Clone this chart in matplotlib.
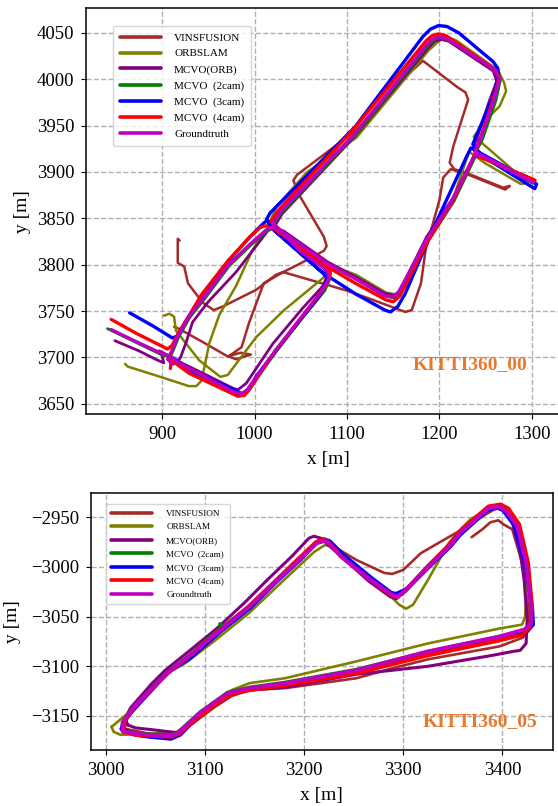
import numpy as np
import matplotlib
matplotlib.use("Agg")
import matplotlib.pyplot as plt

plt.rcParams['font.family'] = ['Liberation Serif', 'DejaVu Serif']

labels = ['VINSFUSION', 'ORBSLAM', 'MCVO(ORB)', 'MCVO  (2cam)', 'MCVO  (3cam)', 'MCVO  (4cam)', 'Groundtruth']
colors = ['#a52a2a', '#808000', '#800080', '#008000', '#0000ff', '#ff0000', '#c000c0']

# ---------------- KITTI360_00 trajectories (x, y) in metres ----------------
vins00 = np.array([(913,3733),(918,3731),(945,3716),(971,3701),(985,3705),(996,3703),(980,3698),(972,3701),
    (986,3711),(994,3737),(1010,3780),(1031,3792),(1049,3801),(1075,3815),(1078,3820),(1075,3830),
    (1049,3874),(1042,3891),(1046,3897),(1110,3945),(1170,4009),(1182,4020),(1186,4017),(1220,3991),
    (1228,3986),(1231,3978),(1215,3928),(1211,3910),(1216,3903),(1229,3899),(1269,3883),(1276,3885),
    (1271,3881),(1229,3898),(1212,3903),(1204,3894),(1200,3870),(1185,3816),(1180,3780),(1170,3751),
    (1163,3749),(1128,3762),(1100,3772),(1031,3792),(1023,3789),(1002,3773),(966,3755),(956,3751),
    (944,3759),(928,3780),(924,3798),(917,3802),(917,3828),(919,3826)])

orb00 = np.array([(860,3693),(863,3690),(895,3680),(929,3669),(937,3669),(942,3674),(946,3690),(951,3715),
    (962,3746),(980,3777),(998,3816),(1013,3838),(1024,3863),(1057,3900),(1110,3937),(1188,4031),
    (1199,4041),(1208,4046),(1218,4042),(1263,4010),(1270,3996),(1272,3987),(1265,3971),(1251,3957),
    (1237,3938),(1245,3932),(1290,3893),(1293,3888),(1288,3887),(1250,3909),(1232,3922),(1215,3872),
    (1188,3828),(1158,3773),(1152,3768),(1142,3770),(1110,3789),(1088,3797),(1078,3789),(1071,3783),
    (1032,3751),(1002,3722),(971,3681),(963,3679),(940,3697),(915,3729),(913,3744),(908,3747),(902,3745)])

mcvo_orb00 = np.array([(849,3718),(875,3707),(893,3698),(902,3694),(900,3702),(897,3707),(903,3704),(917,3696),
    (950,3680),(976,3667),(982,3665),(991,3672),(1020,3715),(1052,3753),(1074,3777),(1079,3789),
    (1075,3796),(1028,3836),(1022,3842),(1030,3855),(1109,3939),(1188,4034),(1195,4041),(1202,4043),(1210,4041),
    (1258,4009),(1262,3998),(1254,3977),(1240,3935),(1236,3925),(1246,3918),(1300,3890),(1246,3918),
    (1238,3919),(1214,3871),(1186,3830),(1157,3771),(1151,3767),(1141,3769),(1109,3787),(1079,3803),
    (1032,3836),(1021,3841),(1014,3836),(980,3792),(950,3760),(933,3738),(926,3716),(920,3700),(916,3694)])

cam2_00 = np.array([(841,3731),(870,3717),(899,3703),(909,3700),(917,3693),(950,3676),(979,3661),(987,3660),
    (993,3664),(1024,3707),(1053,3744),(1076,3772),(1082,3786),(1078,3795),(1051,3813),(1028,3837),
    (1021,3844),(1029,3856),(1110,3941),(1187,4036),(1193,4042),(1200,4045),(1209,4043),(1260,4010),(1266,4000),
    (1261,3977),(1246,3934),(1239,3921),(1248,3916),(1301,3888),(1248,3916),(1239,3917),(1216,3869),
    (1188,3826),(1157,3768),(1151,3764),(1141,3766),(1110,3784),(1080,3800),(1033,3833),(1021,3840),
    (1013,3836),(996,3821),(973,3799),(946,3763),(930,3743),(918,3722),(912,3707),(907,3697)])

cam3_00 = np.array([(865,3748),(890,3734),(911,3721),(917,3723),(925,3738),(943,3767),(970,3802),(995,3830),
    (1010,3845),(1014,3848),(1018,3840),(1074,3791),(1110,3768),(1141,3751),(1147,3749),(1155,3755),
    (1163,3769),(1191,3834),(1229,3916),(1234,3926),(1245,3920),(1305,3887),(1303,3882),(1245,3918),
    (1236,3930),(1258,3982),(1264,4005),(1263,4012),(1258,4019),(1221,4050),(1208,4057),(1199,4058),(1190,4054),
    (1182,4046),(1109,3949),(1035,3874),(1017,3856),(1013,3849),(1018,3840),(1074,3791),(1079,3785),(1070,3766),
    (1038,3726),(1002,3680),(994,3665),(988,3660),(980,3664),(926,3688),(913,3699),(912,3693)])

cam4_00 = np.array([(845,3741),(872,3726),(898,3713),(906,3709),(911,3713),(918,3727),(930,3746),(943,3768),
    (972,3805),(995,3830),(1006,3840),(1012,3842),(1022,3838),(1078,3798),(1109,3780),(1142,3762),
    (1150,3760),(1157,3766),(1186,3823),(1214,3868),(1238,3918),(1247,3915),(1303,3891),(1247,3915),
    (1239,3922),(1244,3936),(1258,3978),(1264,4000),(1262,4008),(1255,4014),(1207,4047),(1199,4049),(1192,4047),
    (1186,4042),(1107,3946),(1026,3859),(1018,3847),(1025,3838),(1074,3798),(1082,3791),(1080,3783),(1073,3772),
    (1050,3742),(1021,3705),(995,3666),(989,3659),(982,3658),(929,3683),(910,3697),(909,3688)])

gt00 = np.array([(845,3730),(872,3717),(900,3704),(910,3701),(918,3694),(950,3677),(979,3662),(986,3661),
    (992,3665),(1023,3708),(1052,3745),(1074,3773),(1081,3786),(1077,3795),(1050,3814),(1027,3838),
    (1020,3845),(1028,3857),(1109,3942),(1186,4037),(1192,4043),(1199,4046),(1208,4044),(1259,4011),(1265,4001),
    (1259,3978),(1244,3935),(1238,3922),(1247,3917),(1301,3889),(1247,3917),(1238,3918),(1214,3870),
    (1186,3827),(1155,3769),(1149,3765),(1140,3767),(1109,3785),(1079,3801),(1032,3834),(1020,3841),
    (1012,3837),(995,3822),(972,3800),(945,3764),(929,3744),(917,3723),(911,3708),(906,3698),(910,3694)])

# ---------------- KITTI360_05 trajectories ----------------
vins05 = np.array([(3369,-2970),(3380,-2962),(3388,-2955),(3396,-2953),(3401,-2957),(3410,-2962),(3420,-2996),
    (3426,-3040),(3426,-3060),(3421,-3071),(3397,-3080),(3325,-3093),(3289,-3102),(3253,-3112),(3181,-3122),
    (3145,-3124),(3127,-3130),(3110,-3141),(3090,-3156),(3075,-3167),(3066,-3170),(3044,-3168),(3020,-3163),
    (3018,-3156),(3026,-3144),(3048,-3121),(3062,-3107),(3084,-3090),(3116,-3063),(3145,-3040),(3170,-3016),
    (3195,-2993),(3213,-2976),(3220,-2974),(3224,-2976),(3253,-2993),(3281,-3006),(3289,-3007),(3300,-3003),
    (3318,-2986),(3337,-2975),(3358,-2963),(3375,-2952),(3390,-2943)])

orb05 = np.array([(3006,-3161),(3008,-3166),(3015,-3169),(3045,-3168),(3072,-3166),(3080,-3161),(3109,-3137),
    (3127,-3124),(3145,-3117),(3181,-3112),(3253,-3095),(3325,-3077),(3397,-3062),(3420,-3058),(3423,-3050),
    (3425,-3013),(3420,-2985),(3412,-2955),(3402,-2942),(3396,-2939),(3385,-2942),(3368,-2952),(3360,-2960),
    (3346,-2976),(3325,-3013),(3310,-3038),(3303,-3042),(3296,-3038),(3281,-3023),(3253,-3000),(3231,-2980),
    (3221,-2978),(3210,-2985),(3181,-3012),(3145,-3046),(3109,-3075),(3080,-3097),(3066,-3105),(3051,-3119),
    (3030,-3141),(3006,-3161)])

mcvo_orb05 = np.array([(3022,-3159),(3030,-3162),(3048,-3164),(3073,-3167),(3080,-3163),(3097,-3146),
    (3124,-3127),(3146,-3124),(3182,-3121),(3253,-3108),(3325,-3100),(3390,-3089),(3411,-3085),(3418,-3084),
    (3424,-3077),(3425,-3053),(3422,-3013),(3418,-2985),(3410,-2955),(3401,-2943),(3395,-2941),(3384,-2944),
    (3356,-2968),(3345,-2981),(3324,-3001),(3302,-3025),(3293,-3032),(3287,-3030),(3265,-3014),(3236,-2988),
    (3217,-2971),(3210,-2969),(3205,-2971),(3188,-2989),(3163,-3013),(3140,-3036),(3112,-3062),(3080,-3088),
    (3060,-3104),(3046,-3118),(3025,-3142),(3020,-3152),(3022,-3159)])

cam2_05 = np.array([(3017,-3164),(3030,-3167),(3044,-3168),(3066,-3169),(3073,-3166),(3095,-3146),(3123,-3126),
    (3145,-3121),(3181,-3116),(3253,-3103),(3325,-3085),(3397,-3070),(3423,-3064),(3429,-3057),(3428,-3030),
    (3424,-2995),(3420,-2972),(3419,-2968),(3416,-2957),(3405,-2943),(3398,-2938),(3386,-2940),(3357,-2965),
    (3346,-2979),(3325,-2999),(3303,-3022),(3294,-3029),(3289,-3027),(3267,-3012),(3238,-2989),(3224,-2974),
    (3219,-2973),(3212,-2975),(3195,-2992),(3170,-3015),(3145,-3039),(3118,-3060),(3115,-3057),(3116,-3061),
    (3084,-3089),(3062,-3106),(3048,-3120),(3026,-3143),(3017,-3156),(3017,-3164)])

cam3_05 = np.array([(3016,-3163),(3030,-3169),(3044,-3171),(3066,-3173),(3075,-3169),(3096,-3148),(3124,-3128),
    (3146,-3123),(3182,-3118),(3253,-3106),(3325,-3088),(3397,-3072),(3424,-3066),(3431,-3058),(3430,-3040),
    (3423,-2996),(3412,-2958),(3401,-2943),(3396,-2940),(3386,-2942),(3358,-2967),(3347,-2980),(3326,-3000),
    (3304,-3022),(3293,-3027),(3288,-3026),(3268,-3011),(3240,-2988),(3226,-2974),(3220,-2972),(3213,-2975),
    (3197,-2992),(3171,-3016),(3146,-3041),(3117,-3064),(3085,-3092),(3064,-3105),(3049,-3121),(3027,-3145),
    (3018,-3156),(3016,-3163)])

cam4_05 = np.array([(3018,-3166),(3030,-3169),(3044,-3170),(3066,-3171),(3074,-3168),(3096,-3149),(3123,-3129),
    (3145,-3124),(3181,-3119),(3253,-3107),(3325,-3089),(3397,-3074),(3421,-3068),(3428,-3060),(3430,-3040),
    (3426,-2996),(3417,-2957),(3406,-2941),(3398,-2937),(3386,-2939),(3357,-2964),(3346,-2978),(3325,-2999),
    (3303,-3023),(3294,-3030),(3289,-3029),(3267,-3013),(3238,-2990),(3225,-2975),(3219,-2972),(3212,-2975),
    (3194,-2992),(3169,-3016),(3144,-3040),(3115,-3064),(3083,-3091),(3061,-3108),(3047,-3122),(3025,-3146),
    (3018,-3158),(3018,-3166)])

gt05 = np.array([(3017,-3165),(3030,-3168),(3044,-3169),(3066,-3170),(3073,-3167),(3095,-3147),(3123,-3127),
    (3145,-3122),(3181,-3117),(3253,-3104),(3325,-3085),(3397,-3070),(3422,-3063),(3429,-3057),(3429,-3040),
    (3424,-2996),(3415,-2959),(3404,-2944),(3397,-2939),(3386,-2941),(3357,-2966),(3346,-2980),(3325,-3000),
    (3303,-3023),(3294,-3030),(3289,-3028),(3267,-3013),(3238,-2990),(3224,-2975),(3220,-2974),(3213,-2976),
    (3195,-2993),(3170,-3016),(3145,-3040),(3116,-3063),(3084,-3090),(3062,-3107),(3048,-3121),(3026,-3144),
    (3017,-3157),(3017,-3165)])

traj00 = [vins00, orb00, mcvo_orb00, cam2_00, cam3_00, cam4_00, gt00]
traj05 = [vins05, orb05, mcvo_orb05, cam2_05, cam3_05, cam4_05, gt05]

fig = plt.figure(figsize=(5.58, 8.06), dpi=100)
W, H = 558.0, 806.0

ax1 = fig.add_axes([86/W, 1-414/H, (570-86)/W, (414-8.3)/H])
ax2 = fig.add_axes([90.7/W, 1-750/H, (552.7-90.7)/W, (750-493.3)/H])


def draw(ax, trajs, widths, name, fs, hl, htp, anchor, text_pos, ylpad):
    for t, lab, c, lw in zip(trajs, labels, colors, widths):
        ax.plot(t[:, 0], t[:, 1], color=c, lw=lw, label=lab,
                solid_joinstyle='round', solid_capstyle='round')
    ax.grid(True, linestyle='--', color='#b0b0b0', lw=1.0)
    ax.set_axisbelow(True)
    leg = ax.legend(loc='upper left', bbox_to_anchor=anchor, borderaxespad=0,
                    fontsize=fs, handlelength=hl, labelspacing=0.55, handletextpad=htp,
                    borderpad=0.6, frameon=True)
    for h in leg.get_lines():
        h.set_linewidth(2.6)
    ax.text(text_pos[0], text_pos[1], name, transform=ax.transAxes, color='#e8792a',
            fontsize=14, fontweight='bold', ha='center', va='center')
    ax.set_xlabel('x [m]', fontsize=14, labelpad=6)
    ax.set_ylabel('y [m]', fontsize=14, labelpad=ylpad)
    ax.tick_params(labelsize=13.5, pad=5)
    for s in ax.spines.values():
        s.set_linewidth(1.1)


draw(ax1, traj00, [1.8, 1.8, 2.0, 2.0, 2.4, 2.4, 2.4], 'KITTI360_00', 8.0, 3.7, 1.2,
     (0.0558, 0.956), (0.793, 0.123), 4)
ax1.set_xlim(817.8, 1341.1)
ax1.set_ylim(3638.9, 4076.6)
ax1.set_xticks([900, 1000, 1100, 1200, 1300])
ax1.set_yticks([3650, 3700, 3750, 3800, 3850, 3900, 3950, 4000, 4050])

draw(ax2, traj05, [1.9, 1.9, 2.2, 2.2, 2.8, 2.8, 2.8], 'KITTI360_05', 6.6, 4.5, 1.5,
     (0.0325, 0.958), (0.843, 0.109), 7)
ax2.set_xlim(2984.9, 3450.8)
ax2.set_ylim(-3184.3, -2925.8)
ax2.set_xticks([3000, 3100, 3200, 3300, 3400])
ax2.set_yticks([-3150, -3100, -3050, -3000, -2950])

fig.savefig('out.png', dpi=100)
